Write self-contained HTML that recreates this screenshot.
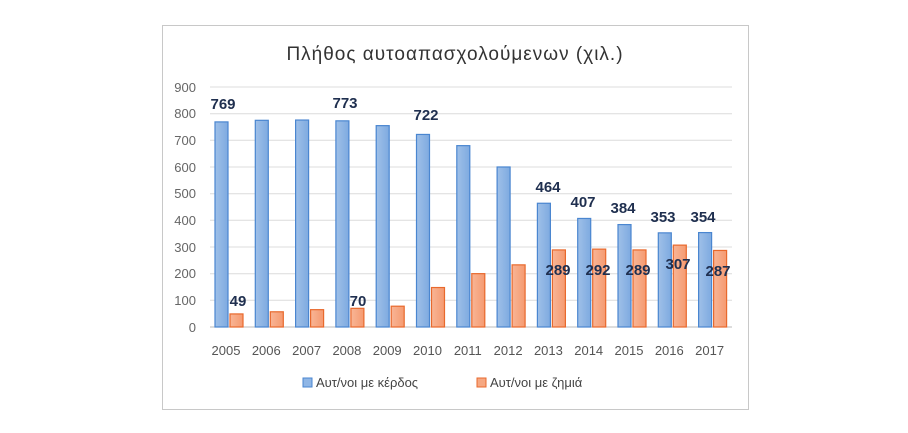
<!DOCTYPE html><html><head><meta charset="utf-8"><style>body{margin:0;background:#fff}</style></head><body>
<svg width="908" height="428" xmlns="http://www.w3.org/2000/svg" font-family="Liberation Sans, DejaVu Sans, sans-serif">
<defs>
<linearGradient id="b" x1="0" x2="1"><stop offset="0" stop-color="#9fc0e8"/><stop offset="1" stop-color="#7eaae0"/></linearGradient>
<linearGradient id="o" x1="0" x2="1"><stop offset="0" stop-color="#f8b596"/><stop offset="1" stop-color="#f59a70"/></linearGradient>
</defs>
<rect x="162.5" y="25.5" width="586" height="384" fill="#fff" stroke="#c8c8c8"/>
<text x="455" y="60" font-size="19" text-anchor="middle" fill="#333" letter-spacing="1">Πλήθος αυτοαπασχολούμενων (χιλ.)</text>
<g stroke="#dcdcdc" stroke-width="1">
<line x1="210" x2="732" y1="87" y2="87"/><line x1="210" x2="732" y1="113.7" y2="113.7"/><line x1="210" x2="732" y1="140.3" y2="140.3"/><line x1="210" x2="732" y1="167" y2="167"/><line x1="210" x2="732" y1="193.7" y2="193.7"/><line x1="210" x2="732" y1="220.3" y2="220.3"/><line x1="210" x2="732" y1="247" y2="247"/><line x1="210" x2="732" y1="273.7" y2="273.7"/><line x1="210" x2="732" y1="300.3" y2="300.3"/>
</g>
<line x1="210" x2="732" y1="327" y2="327" stroke="#bbb"/>
<g font-size="13" fill="#666" text-anchor="end">
<text x="196" y="92">900</text><text x="196" y="118">800</text><text x="196" y="145">700</text><text x="196" y="172">600</text><text x="196" y="198">500</text><text x="196" y="225">400</text><text x="196" y="252">300</text><text x="196" y="278">200</text><text x="196" y="305">100</text><text x="196" y="332">0</text>
</g>
<g id="bars"></g>
<g font-size="13" fill="#555" text-anchor="middle" id="xl"></g>
<g font-size="15" font-weight="bold" fill="#1f2f4f" text-anchor="middle" id="lb"></g>
<rect x="303" y="378" width="9" height="9" fill="#8fb6e6" stroke="#4a86d0"/>
<text x="316" y="387" font-size="13" fill="#444">Αυτ/νοι με κέρδος</text>
<rect x="477" y="378" width="9" height="9" fill="#f6a882" stroke="#e8692d"/>
<text x="490" y="387" font-size="13" fill="#444">Αυτ/νοι με ζημιά</text>
<script>
var B=[769,775,776,773,755,722,680,600,464,407,384,353,354],O=[49,57,65,70,78,148,200,233,289,292,289,307,287];
var ns="http://www.w3.org/2000/svg",g=document.getElementById('bars'),xl=document.getElementById('xl'),lb=document.getElementById('lb');
function el(p,t,a,tx){var e=document.createElementNS(ns,t);for(var k in a)e.setAttribute(k,a[k]);if(tx)e.textContent=tx;p.appendChild(e);}
for(var i=0;i<13;i++){var c=228+i*40.3,yb=327-B[i]*0.2667,yo=327-O[i]*0.2667;
el(g,'rect',{x:c-13,y:yb,width:13,height:327-yb,fill:'url(#b)',stroke:'#4a86d0','stroke-width':1.2});
el(g,'rect',{x:c+2,y:yo,width:13,height:327-yo,fill:'url(#o)',stroke:'#e8692d','stroke-width':1.2});
el(xl,'text',{x:c-2,y:355},String(2005+i));}
var BL={0:[223,109],3:[345,108],5:[426,120],8:[548,192],9:[583,207],10:[623,213],11:[663,222],12:[703,222]};
for(var k in BL)el(lb,'text',{x:BL[k][0],y:BL[k][1]},String(B[k]));
var OL={0:[238,306],3:[358,306],8:[558,275],9:[598,275],10:[638,275],11:[678,269],12:[718,276]};
for(var k in OL)el(lb,'text',{x:OL[k][0],y:OL[k][1]},String(O[k]));
</script>
</svg></body></html>
